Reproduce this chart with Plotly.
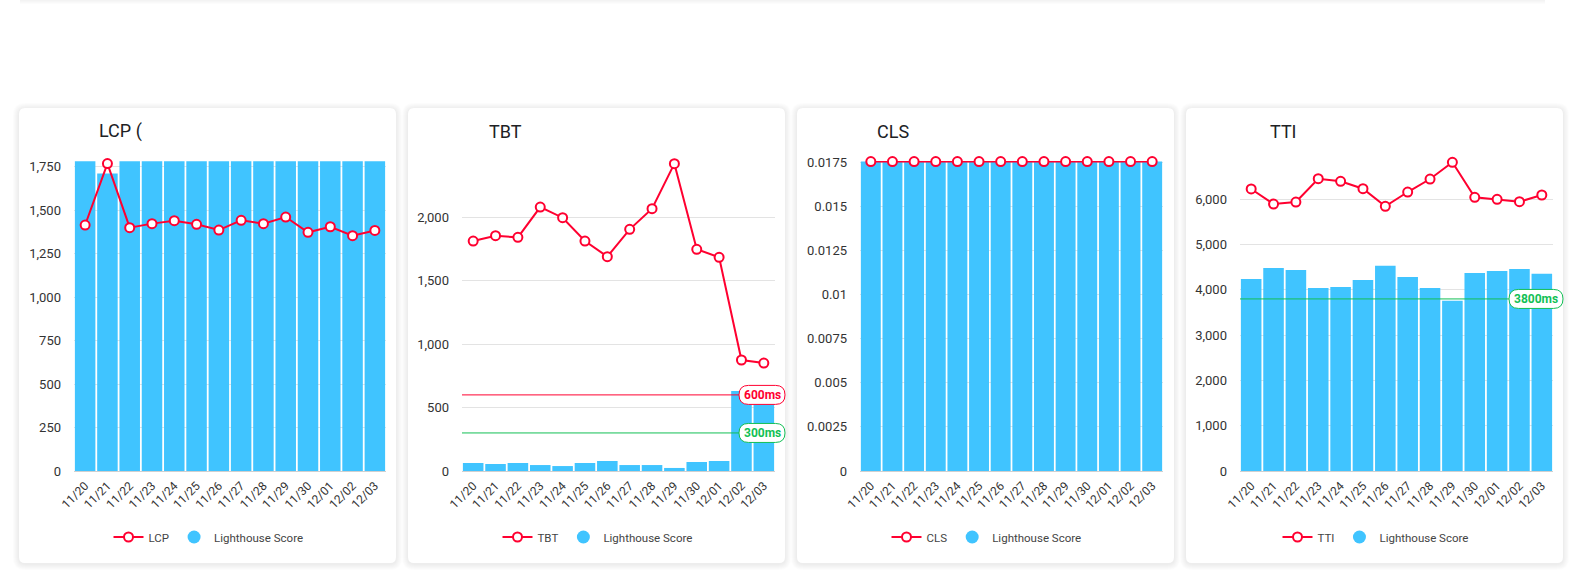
import plotly.graph_objects as go

dates = ["11/20", "11/21", "11/22", "11/23", "11/24", "11/25", "11/26",
         "11/27", "11/28", "11/29", "11/30", "12/01", "12/02", "12/03"]

lcp = [1414, 1767, 1399, 1422, 1439, 1418, 1385, 1441, 1422, 1460, 1372, 1404, 1353, 1383]
lcp_score = [1780, 1710, 1780, 1780, 1780, 1780, 1780, 1780, 1780, 1780, 1780, 1780, 1780, 1780]

tbt = [1813, 1855, 1842, 2081, 1997, 1813, 1690, 1905, 2068, 2423, 1748, 1685, 875, 851]
tbt_score = [63, 55, 63, 47, 39, 63, 79, 47, 47, 24, 71, 79, 631, 620]

cls = [0.01755] * 14
cls_score = [0.01755] * 14

tti = [6228, 5896, 5940, 6455, 6397, 6234, 5845, 6161, 6448, 6817, 6044, 6000, 5947, 6095]
tti_score = [4240, 4483, 4439, 4041, 4063, 4218, 4534, 4284, 4041, 3761, 4373, 4417, 4461, 4357]

titles = ["LCP (", "TBT", "CLS", "TTI"]
metric_names = ["LCP", "TBT", "CLS", "TTI"]
y_ranges = [[0, 1782], [0, 2444], [0, 0.01758], [0, 6846]]
y_ticks = [
    [0, 250, 500, 750, 1000, 1250, 1500, 1750],
    [0, 500, 1000, 1500, 2000],
    [0, 0.0025, 0.005, 0.0075, 0.01, 0.0125, 0.015, 0.0175],
    [0, 1000, 2000, 3000, 4000, 5000, 6000],
]
y_ticktext = [
    ["0", "250", "500", "750", "1,000", "1,250", "1,500", "1,750"],
    ["0", "500", "1,000", "1,500", "2,000"],
    ["0", "0.0025", "0.005", "0.0075", "0.01", "0.0125", "0.015", "0.0175"],
    ["0", "1,000", "2,000", "3,000", "4,000", "5,000", "6,000"],
]
# thresholds: (panel index, value, label, colour)
thresholds = [(1, 600, "600ms", "#ff0030"), (1, 300, "300ms", "#12bf55"), (3, 3800, "3800ms", "#12bf55")]

W, H = 1584, 579
RED = "#ff0030"
BLUE = "#40c4ff"
FONT = "Roboto"


def fx(x):
    return x / W


def fy(y):
    return 1 - y / H


def rrect(x0, y0, x1, y1, r):
    pts = [
        ("M", [(x0 + r, y0)]), ("L", [(x1 - r, y0)]), ("Q", [(x1, y0), (x1, y0 + r)]),
        ("L", [(x1, y1 - r)]), ("Q", [(x1, y1), (x1 - r, y1)]), ("L", [(x0 + r, y1)]),
        ("Q", [(x0, y1), (x0, y1 - r)]), ("L", [(x0, y0 + r)]), ("Q", [(x0, y0), (x0 + r, y0)]),
    ]
    s = ""
    for cmd, ps in pts:
        s += cmd + " " + " ".join(f"{fx(a):.6f},{fy(b):.6f}" for a, b in ps) + " "
    return s + "Z"


card_left = [19, 408, 797, 1186]
card_w = 377
card_top, card_bot = 108, 563
plot_x = [(74, 386), (462, 775), (860, 1163), (1240, 1553)]
plot_top, plot_bot = 161, 471
title_x = [97, 487, 875, 1268]

lines = [lcp, tbt, cls, tti]
scores = [lcp_score, tbt_score, cls_score, tti_score]

fig = go.Figure()
shapes = []
annotations = []

# top shadow remnant
for k in range(4):
    shapes.append(dict(type="rect", xref="paper", yref="paper", x0=fx(20), x1=fx(1545),
                       y0=fy(0), y1=fy(1 + k), fillcolor="rgba(0,0,0,0.012)", line_width=0, layer="below"))

# cards with soft shadow
for cl in card_left:
    for k in range(6, 0, -1):
        shapes.append(dict(type="path", xref="paper", yref="paper",
                           path=rrect(cl - k, card_top - k + 1, cl + card_w + k, card_bot + k + 1, 6 + k),
                           fillcolor="rgba(0,0,0,0.010)", line_width=0, layer="below"))
    shapes.append(dict(type="path", xref="paper", yref="paper",
                       path=rrect(cl, card_top, cl + card_w, card_bot, 6),
                       fillcolor="white", line_width=0, layer="below"))

for i in range(4):
    n = "" if i == 0 else str(i + 1)
    xa, ya = "x" + n, "y" + n
    lg = "legend" if i == 0 else "legend" + str(i + 1)
    fig.add_trace(go.Bar(x=dates, y=scores[i], xaxis=xa, yaxis=ya, marker_color=BLUE,
                         marker_line_width=0, name="Lighthouse Score", showlegend=False, legend=lg))
    fig.add_trace(go.Scatter(x=dates, y=lines[i], xaxis=xa, yaxis=ya, mode="lines+markers",
                             line=dict(color=RED, width=2),
                             marker=dict(size=9, color="white", line=dict(color=RED, width=2)),
                             name=metric_names[i], legend=lg, cliponaxis=False))
    fig.add_trace(go.Scatter(x=[None], y=[None], xaxis=xa, yaxis=ya, mode="markers",
                             marker=dict(size=13, color=BLUE), name="Lighthouse Score", legend=lg))

    x0, x1 = plot_x[i]
    fig.layout["xaxis" + n] = dict(domain=[fx(x0), fx(x1)], anchor=ya, tickangle=-45,
                                   range=[-0.5, len(dates) - 0.5], autorange=False,
                                   type="category", automargin=False,
                                   tickfont=dict(family=FONT, size=12, color="#333"),
                                   showgrid=False, showline=True, linecolor="#d0d0d0", linewidth=1,
                                   ticks="", fixedrange=True, ticklabelstandoff=2)
    fig.layout["yaxis" + n] = dict(domain=[fy(plot_bot), fy(plot_top)], anchor=xa, range=y_ranges[i],
                                   autorange=False, automargin=False,
                                   tickvals=y_ticks[i], ticktext=y_ticktext[i],
                                   tickfont=dict(family=FONT, size=13, color="#333"),
                                   showgrid=True, gridcolor="#e3e3e3", gridwidth=1, zeroline=False,
                                   showline=False, ticks="", ticklabelstandoff=12, fixedrange=True)
    fig.layout[lg] = dict(orientation="h", x=fx(card_left[i] + card_w / 2 + 1), xanchor="center",
                          y=fy(537), yanchor="middle", xref="paper", yref="paper",
                          font=dict(family=FONT, size=11.5, color="#444"), bgcolor="rgba(0,0,0,0)",
                          itemwidth=30, tracegroupgap=0)
    annotations.append(dict(text=titles[i], x=fx(title_x[i]), y=fy(131), xref="paper", yref="paper",
                            xanchor="left", yanchor="middle", showarrow=False,
                            font=dict(family=FONT, size=18, color="#202124")))

for (pi, val, label, col) in thresholds:
    n = "" if pi == 0 else str(pi + 1)
    ya = "y" + n
    right = fx(plot_x[pi][1])
    wpx = 46 if len(label) == 5 else 54
    shapes.append(dict(type="line", xref="x" + n + " domain", x0=0, x1=1, yref=ya, y0=val, y1=val,
                       line=dict(color=col, width=1), layer="above"))
    r = 9.5
    xl, xr = -wpx + 10, 10
    path = (f"M {xl + r},{-r} L {xr - r},{-r} Q {xr},{-r} {xr},0 Q {xr},{r} {xr - r},{r} "
            f"L {xl + r},{r} Q {xl},{r} {xl},0 Q {xl},{-r} {xl + r},{-r} Z")
    shapes.append(dict(type="path", xref="paper", xsizemode="pixel", xanchor=right,
                       yref=ya, ysizemode="pixel", yanchor=val, path=path,
                       fillcolor="white", line=dict(color=col, width=1), layer="above"))
    annotations.append(dict(text=f"<b>{label}</b>", x=right, xref="paper", y=val, yref=ya,
                            xanchor="center", yanchor="middle", xshift=10 - wpx / 2, showarrow=False,
                            font=dict(family=FONT, size=12, color=col)))

fig.update_layout(width=W, height=H, margin=dict(l=0, r=0, t=0, b=0, autoexpand=False),
                  autosize=False,
                  paper_bgcolor="white", plot_bgcolor="rgba(0,0,0,0)",
                  bargap=0.08, shapes=shapes, annotations=annotations,
                  font=dict(family=FONT))

fig.write_html("out.html", config={"responsive": False, "displayModeBar": False},
               post_script="document.body.style.margin='0px';document.body.style.overflow='hidden';")
